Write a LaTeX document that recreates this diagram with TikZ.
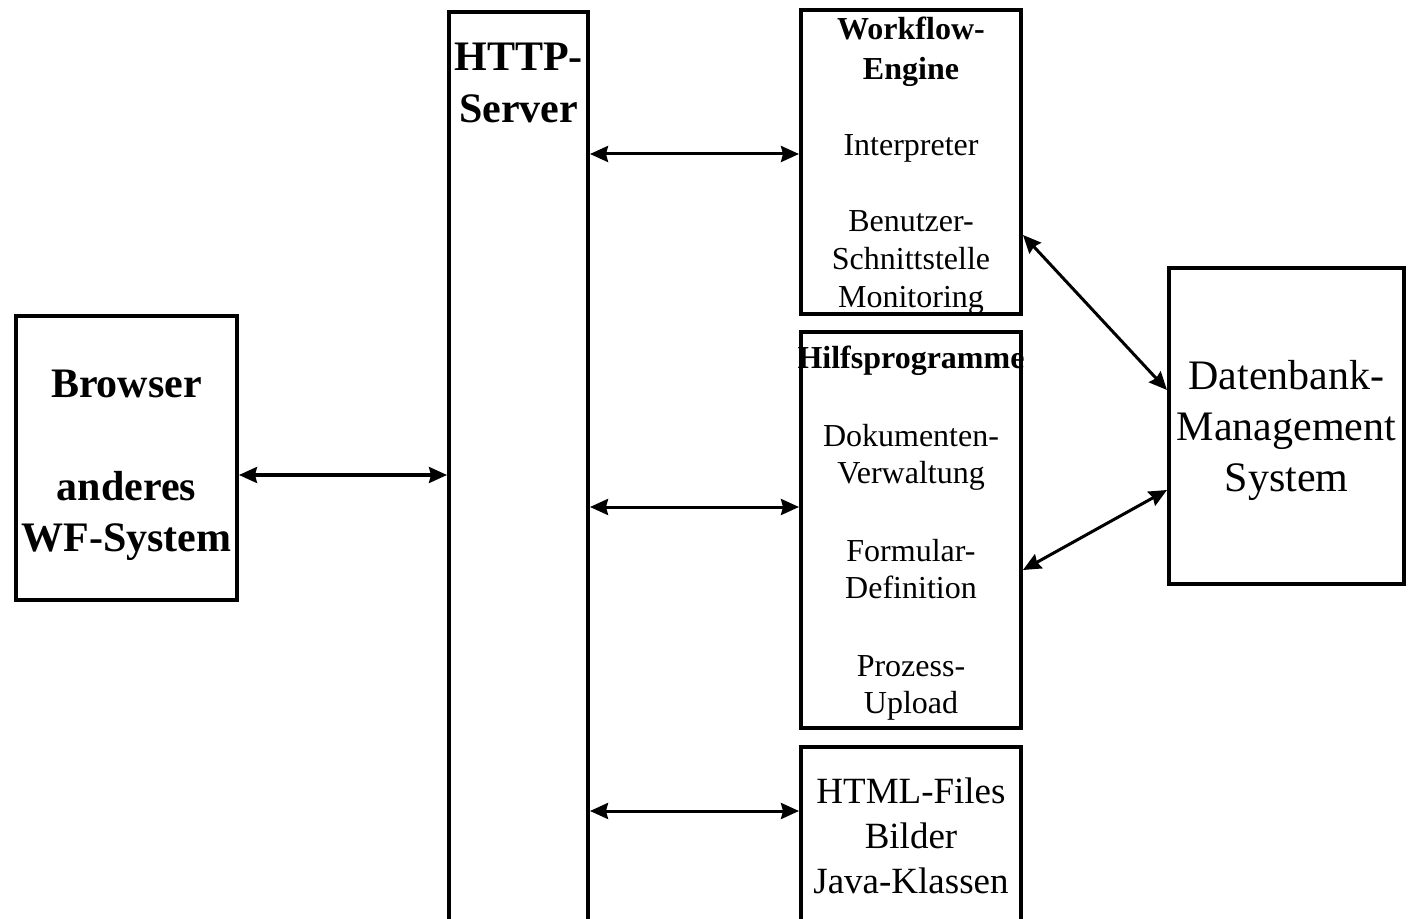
\documentclass[tikz,border=0pt]{standalone}
\usepackage{fontspec}
\setmainfont{Liberation Serif}
\usetikzlibrary{arrows.meta,positioning}
\newcommand{\tdrop}[1]{\rule{0pt}{#1}}
\tikzset{
  box/.style={draw,line width=2pt,inner sep=0pt,align=center},
  arr/.style={{Stealth[length=9pt,width=8pt,inset=1pt]}-{Stealth[length=9pt,width=8pt,inset=1pt]},line width=1.5pt},
  bigb/.style={font=\fontsize{21}{25.75}\selectfont\bfseries},
  big/.style={font=\fontsize{21}{25.5}\selectfont},
  mid/.style={font=\fontsize{16}{19}\selectfont},
  lbl/.style={inner sep=0pt,align=center},
}
\begin{document}
\begin{tikzpicture}[x=0.5pt,y=-0.5pt]
  \useasboundingbox (0,0) rectangle (1408,919);
  \clip (0,0) rectangle (1408,919);
  % boxes
  \node[box,bigb,minimum width=110.5pt,minimum height=142pt] (brow) at (126.5,458) {\tdrop{21pt}Browser\\[25.75pt]anderes\\WF-System};
  \node[box,minimum width=69.5pt,minimum height=494pt] (http) at (518.5,506) {};
  \node[lbl,bigb,below=16.5pt of http.north] (httplbl) {HTTP-\\Server};
  \node[box,mid,minimum width=110pt,minimum height=150pt] (wf) at (911,162) {\tdrop{15pt}\textbf{Workflow-}\\[1pt]\textbf{Engine}\\[19pt]Interpreter\\[19pt]Benutzer-\\Schnittstelle\\Monitoring};
  \node[box,mid,font=\fontsize{16}{18.5}\selectfont,minimum width=110pt,minimum height=198pt] (hilf) at (911,530) {\tdrop{14.5pt}\makebox[0pt]{\textbf{Hilfsprogramme}}\\[20.5pt]Dokumenten-\\Verwaltung\\[20.5pt]Formular-\\Definition\\[20.5pt]Prozess-\\Upload};
  \node[box,minimum width=110pt,minimum height=126.5pt] (html) at (911,873.5) {};
  \node[lbl,font=\fontsize{18.5}{22.5}\selectfont,below=16pt of html.north] (htmllbl) {HTML-Files\\Bilder\\Java-Klassen};
  \node[box,big,minimum width=117.5pt,minimum height=158pt] (db) at (1286.5,426) {\tdrop{19.3pt}Datenbank-\\Management\\System};
  % connectors
  \draw[arr] (brow.east |- 0,475) -- (http.west |- 0,475);
  \draw[arr] (http.east |- 0,154) -- (wf.west |- 0,154);
  \draw[arr] (http.east |- 0,507) -- (hilf.west |- 0,507);
  \draw[arr] (http.east |- 0,811) -- (html.west |- 0,811);
  \draw[arr] (wf.east |- 0,235) -- (db.west |- 0,390);
  \draw[arr] (hilf.east |- 0,570) -- (db.west |- 0,490);
\end{tikzpicture}
\end{document}
